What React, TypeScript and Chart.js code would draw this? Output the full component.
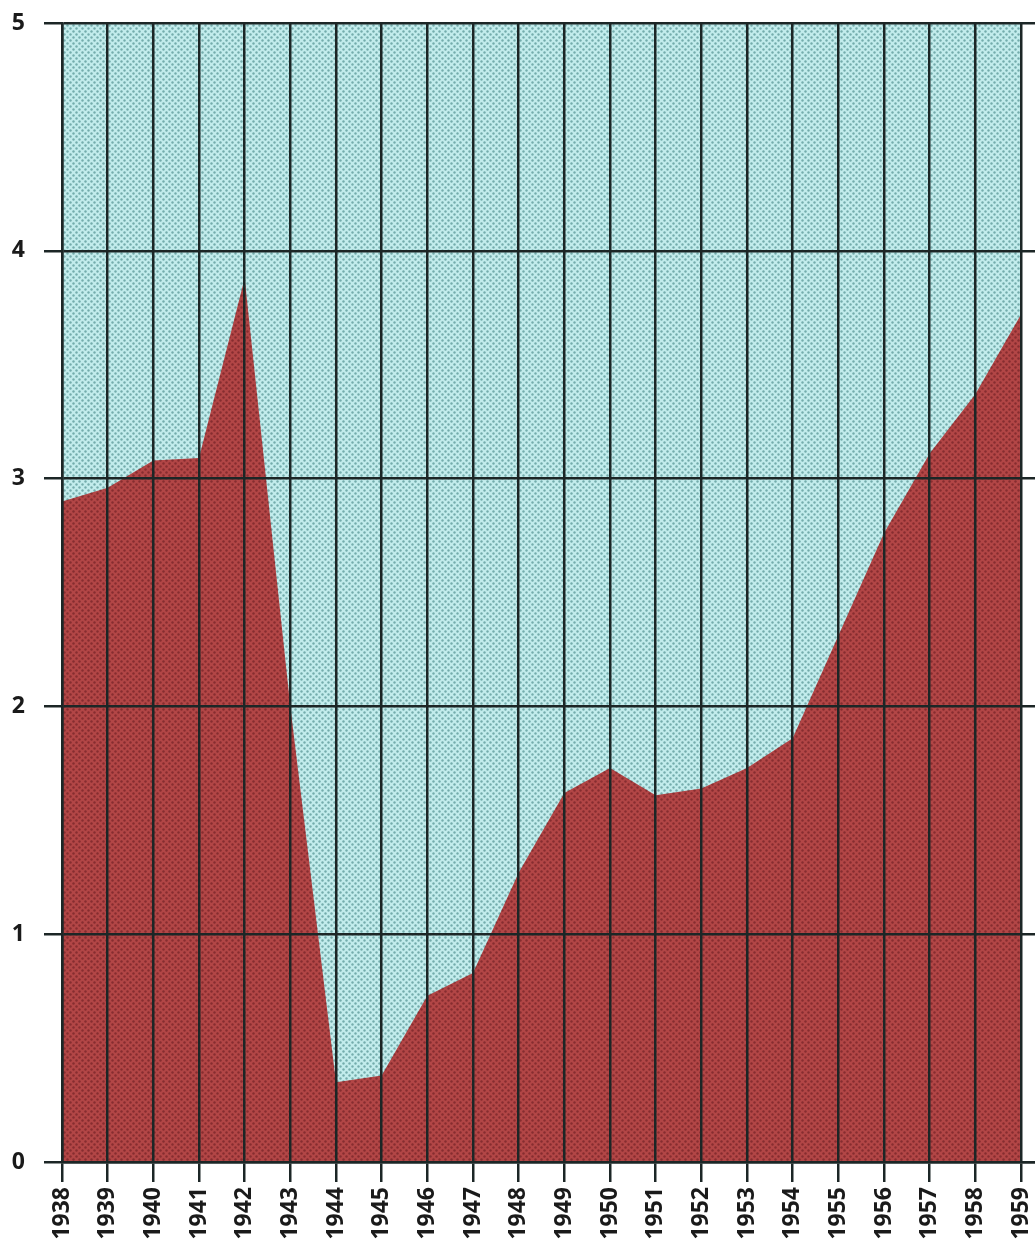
import { useEffect, useRef } from 'react';
import { Chart, registerables } from 'chart.js';

Chart.register(...registerables);

const years = [1938, 1939, 1940, 1941, 1942, 1943, 1944, 1945, 1946, 1947, 1948, 1949, 1950, 1951, 1952, 1953, 1954, 1955, 1956, 1957, 1958, 1959];
const values = [2.9, 2.96, 3.08, 3.09, 3.88, 2.0, 0.35, 0.38, 0.73, 0.83, 1.27, 1.62, 1.73, 1.61, 1.64, 1.73, 1.86, 2.31, 2.76, 3.11, 3.37, 3.72];
const yTicks = [0, 1, 2, 3, 4, 5];

const GRID = '#1c2626';

function makePattern(ctx: CanvasRenderingContext2D, base: string, dot: string) {
  const c = document.createElement('canvas');
  c.width = 6;
  c.height = 6;
  const g = c.getContext('2d')!;
  g.fillStyle = base;
  g.fillRect(0, 0, 6, 6);
  g.fillStyle = dot;
  g.beginPath();
  g.arc(1.5, 1.5, 1.2, 0, Math.PI * 2);
  g.fill();
  g.beginPath();
  g.arc(4.5, 4.5, 1.2, 0, Math.PI * 2);
  g.fill();
  return ctx.createPattern(c, 'repeat')!;
}

export default function App() {
  const ref = useRef<HTMLCanvasElement | null>(null);

  useEffect(() => {
    document.body.style.margin = '0';
    const canvas = ref.current!;
    const ctx = canvas.getContext('2d')!;
    const blue = makePattern(ctx, '#c2ecec', '#74acac');
    const red = makePattern(ctx, '#b24646', '#862d30');

    const bgPlugin = {
      id: 'bg',
      beforeDraw(chart: any) {
        const { ctx: c, chartArea, scales } = chart;
        const xr = scales.x.getPixelForValue(years[years.length - 1]);
        c.save();
        c.fillStyle = blue;
        c.fillRect(chartArea.left, chartArea.top, xr - chartArea.left, chartArea.bottom - chartArea.top);
        c.restore();
      },
    };

    const chart = new Chart(ctx, {
      type: 'line',
      data: {
        datasets: [
          {
            data: years.map((y, i) => ({ x: y, y: values[i] })),
            fill: 'origin',
            backgroundColor: red,
            borderWidth: 0,
            pointRadius: 0,
            tension: 0,
          },
        ],
      },
      plugins: [bgPlugin],
      options: {
        animation: false,
        responsive: false,
        layout: { padding: { top: 23, right: 0, left: 0, bottom: 0 } },
        plugins: { legend: { display: false }, tooltip: { enabled: false } },
        scales: {
          x: {
            type: 'linear',
            min: 1938,
            max: 1959.307,
            afterBuildTicks: (s: any) => {
              s.ticks = years.map((v) => ({ value: v }));
            },
            afterFit: (s: any) => {
              s.height = 84;
              s.paddingLeft = 0;
              s.paddingRight = 0;
            },
            grid: { color: GRID, lineWidth: 2.5, tickLength: 20, z: 1 },
            border: { color: GRID, width: 2.5, z: 1 },
            ticks: {
              autoSkip: false,
              minRotation: 90,
              maxRotation: 90,
              padding: 5,
              color: '#1a1a1a',
              font: { family: 'Open Sans', weight: 'bold', size: 23 },
              callback: (v: any) => String(v),
            },
          },
          y: {
            type: 'linear',
            min: 0,
            max: 5,
            afterBuildTicks: (s: any) => {
              s.ticks = yTicks.map((v) => ({ value: v }));
            },
            afterFit: (s: any) => {
              s.width = 62;
              s.paddingTop = 0;
              s.paddingBottom = 0;
            },
            grid: { color: GRID, lineWidth: 2.5, tickLength: 18, z: 1 },
            border: { color: GRID, width: 2.5, z: 1 },
            ticks: {
              padding: 19,
              color: '#1a1a1a',
              font: { family: 'Open Sans', weight: 'bold', size: 23 },
              callback: (v: any) => String(v),
            },
          },
        },
      },
    } as any);
    return () => chart.destroy();
  }, []);

  return <canvas ref={ref} width={1035} height={1246} style={{ display: 'block' }} />;
}
